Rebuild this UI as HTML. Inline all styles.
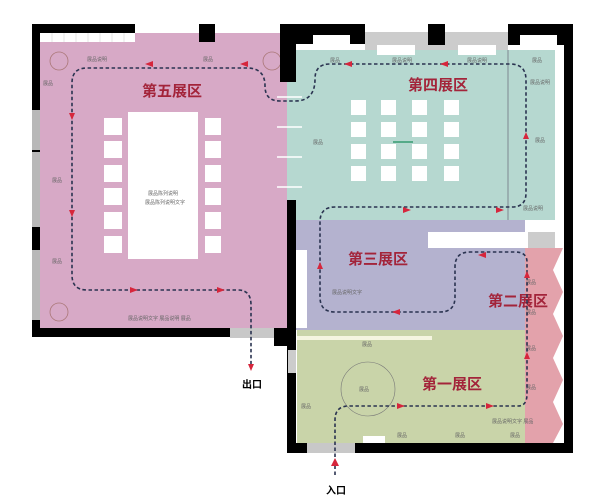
<!DOCTYPE html>
<html><head><meta charset="utf-8"><style>
body{margin:0;background:#fff;width:600px;height:503px;overflow:hidden}
svg{display:block}
.t{font-family:"Liberation Sans","Noto Sans CJK SC",sans-serif;font-size:5px;fill:#666}
.h{font-family:"Liberation Sans","Noto Sans CJK SC",sans-serif;font-size:15px;font-weight:bold;fill:#a3243a}
.p{fill:none;stroke:#2a3350;stroke-width:1.6;stroke-dasharray:3.5 2.5}
.a{fill:#d6263c}
</style></head><body>
<svg width="600" height="503" viewBox="0 0 600 503">
<rect x="40" y="33" width="247" height="297" fill="#d7a9c6"/>
<rect x="40" y="33" width="95" height="9" fill="#fff"/>
<g stroke="#ccc" stroke-width=".5" fill="none"><path d="M52 33v9M64 33v9M76 33v9M88 33v9M100 33v9M112 33v9M124 33v9"/></g>
<rect x="32" y="24" width="103" height="9" fill="#000"/>
<rect x="199" y="24" width="16" height="18" fill="#000"/>
<rect x="32" y="24" width="8" height="312" fill="#000"/>
<rect x="32" y="110" width="8" height="40" fill="#b8b8b8"/>
<rect x="32" y="152" width="8" height="75" fill="#b8b8b8"/>
<rect x="32" y="250" width="8" height="70" fill="#b8b8b8"/>
<rect x="32" y="328" width="198" height="9" fill="#000"/>
<rect x="230" y="328" width="44" height="10" fill="#c8c8c8"/>
<rect x="274" y="328" width="22" height="18" fill="#000"/>
<g fill="#fff">
<rect x="128" y="112" width="70" height="147"/>
<rect x="104" y="118" width="18" height="17"/><rect x="104" y="141" width="18" height="17"/><rect x="104" y="165" width="18" height="17"/><rect x="104" y="188" width="18" height="17"/><rect x="104" y="212" width="18" height="17"/><rect x="104" y="236" width="18" height="17"/>
<rect x="205" y="118" width="16" height="17"/><rect x="205" y="141" width="16" height="17"/><rect x="205" y="165" width="16" height="17"/><rect x="205" y="188" width="16" height="17"/><rect x="205" y="212" width="16" height="17"/><rect x="205" y="236" width="16" height="17"/>
</g>
<text class="t" x="148" y="195">展品陈列说明</text>
<text class="t" x="145" y="204">展品陈列说明文字</text>
<text class="h" x="142" y="96">第五展区</text>
<g fill="none" stroke="#a77" stroke-width=".8"><circle cx="59" cy="61" r="9"/><circle cx="59" cy="312" r="9"/><circle cx="272" cy="61" r="9"/></g>
<text class="t" x="43" y="85">展品</text><text class="t" x="52" y="182">展品</text><text class="t" x="52" y="263">展品</text>
<text class="t" x="87" y="61">展品说明</text><text class="t" x="203" y="61">展品</text>
<text class="t" x="128" y="320">展品说明文字 展品说明 展品</text>
<rect x="287" y="50" width="268" height="170" fill="#b6d8d0"/>
<rect x="365" y="32" width="143" height="18" fill="#ccc"/>
<rect x="377" y="45" width="38" height="10" fill="#fff"/><rect x="458" y="45" width="38" height="10" fill="#fff"/>
<rect x="280" y="24" width="85" height="20" fill="#000"/>
<rect x="313" y="35" width="37" height="15" fill="#fff"/>
<rect x="428" y="24" width="17" height="21" fill="#000"/>
<rect x="508" y="24" width="65" height="21" fill="#000"/>
<rect x="520" y="35" width="37" height="15" fill="#fff"/>
<rect x="555" y="50" width="9" height="180" fill="#fff"/>
<rect x="564" y="24" width="9" height="429" fill="#000"/>
<rect x="280" y="24" width="16" height="58" fill="#000"/>
<rect x="287" y="200" width="9" height="130" fill="#000"/>
<line x1="508" y1="50" x2="508" y2="230" stroke="#667" stroke-width=".7"/>
<g stroke="#fff" stroke-width="1.5"><path d="M277 97h25M277 127h25M277 157h25M277 187h25"/></g>
<g fill="#fff">
<rect x="351" y="100" width="15" height="15"/><rect x="381" y="100" width="15" height="15"/><rect x="412" y="100" width="15" height="15"/><rect x="444" y="100" width="15" height="15"/>
<rect x="351" y="122" width="15" height="15"/><rect x="381" y="122" width="15" height="15"/><rect x="412" y="122" width="15" height="15"/><rect x="444" y="122" width="15" height="15"/>
<rect x="351" y="144" width="15" height="15"/><rect x="381" y="144" width="15" height="15"/><rect x="412" y="144" width="15" height="15"/><rect x="444" y="144" width="15" height="15"/>
<rect x="351" y="166" width="15" height="15"/><rect x="381" y="166" width="15" height="15"/><rect x="412" y="166" width="15" height="15"/><rect x="444" y="166" width="15" height="15"/>
</g>
<rect x="393" y="141" width="20" height="2" fill="#5a8"/>
<text class="h" x="408" y="90">第四展区</text>
<text class="t" x="330" y="62">展品</text><text class="t" x="392" y="62">展品说明</text><text class="t" x="467" y="62">展品说明</text><text class="t" x="532" y="62">展品</text>
<text class="t" x="530" y="84">展品说明</text><text class="t" x="535" y="142">展品</text><text class="t" x="523" y="210">展品说明</text>
<text class="t" x="313" y="144">展品</text><text class="t" x="465" y="227">展品</text>
<rect x="296" y="220" width="229" height="110" fill="#b4b2cf"/>
<rect x="296" y="250" width="11" height="78" fill="#fff"/>
<rect x="428" y="232" width="100" height="16" fill="#fff"/>
<rect x="528" y="232" width="27" height="16" fill="#ccc"/>
<text class="h" x="348" y="264">第三展区</text>
<text class="t" x="332" y="294">展品说明文字</text>
<path d="M525 248h38l-10 22l10 22l-10 22l10 22l-10 22l10 22l-10 22l10 22l-10 19V443H525z" fill="#e3a2ab"/>
<text class="h" x="488" y="306">第二展区</text>
<text class="t" x="526" y="284">展品</text><text class="t" x="526" y="314">展品</text><text class="t" x="526" y="350">展品</text><text class="t" x="526" y="389">展品</text>
<rect x="297" y="330" width="228" height="113" fill="#c9d4a9"/>
<rect x="297" y="336" width="135" height="4" fill="#f5f5e0"/>
<circle cx="368" cy="389" r="27" fill="none" stroke="#777" stroke-width=".6"/>
<text class="t" x="359" y="391">展品</text>
<text class="h" x="422" y="389">第一展区</text>
<text class="t" x="362" y="346">展品</text><text class="t" x="301" y="408">展品</text>
<text class="t" x="492" y="423">展品说明文字 展品</text>
<text class="t" x="397" y="437">展品</text><text class="t" x="455" y="437">展品</text><text class="t" x="510" y="437">展品</text>
<rect x="363" y="436" width="22" height="7" fill="#fff"/>
<rect x="287" y="346" width="9" height="107" fill="#000"/>
<rect x="288" y="350" width="8" height="23" fill="#ccc"/>
<rect x="287" y="443" width="20" height="10" fill="#000"/>
<rect x="307" y="443" width="48" height="10" fill="#c8c8c8"/>
<rect x="355" y="443" width="218" height="10" fill="#000"/>
<path class="p" d="M335 475V420q0-14 14-14H518q9 0 9-12V262q0-10-12-10H470q-15 0-15 15v30q0 15-15 15H335q-15 0-15-15V222q0-15 15-15H512q14 0 14-14V80q0-16-16-16H330q-15 0-15 15q0 22-20 22H280q-15 0-15-15q0-18-18-18H87q-15 0-15 15V275q0 15 15 15H238q13 0 13 15V368"/>
<g class="a">
<path d="M335 458l-4 8h8z"/><path d="M397 409l8-3-8-3z"/><path d="M486 409l8-3-8-3z"/>
<path d="M527 352l-3 7h6z"/><path d="M527 271l-3 7h6z"/>
<path d="M486 252l-8 3 8 3z"/><path d="M400 315l-8-3 8-3z"/>
<path d="M320 262l-3 7h6z"/><path d="M403 207l8 3-8 3z"/><path d="M496 207l8 3-8 3z"/>
<path d="M526 132l-3 7h6z"/><path d="M440 64l8-3v6z"/><path d="M352 61l-8 3 8 3z"/>
<path d="M248 61l-8 3 8 3z"/><path d="M153 61l-8 3 8 3z"/>
<path d="M72 120l-3-7h6z"/><path d="M72 217l-3-7h6z"/>
<path d="M130 287l8 3-8 3z"/><path d="M217 287l8 3-8 3z"/>
<path d="M251 371l-3-7h6z"/>
</g>
<text x="242" y="388" style="font-family:'Liberation Sans','Noto Sans CJK SC',sans-serif;font-size:10px;font-weight:bold">出口</text>
<text x="326" y="494" style="font-family:'Liberation Sans','Noto Sans CJK SC',sans-serif;font-size:10px;font-weight:bold">入口</text>
</svg>
</body></html>
